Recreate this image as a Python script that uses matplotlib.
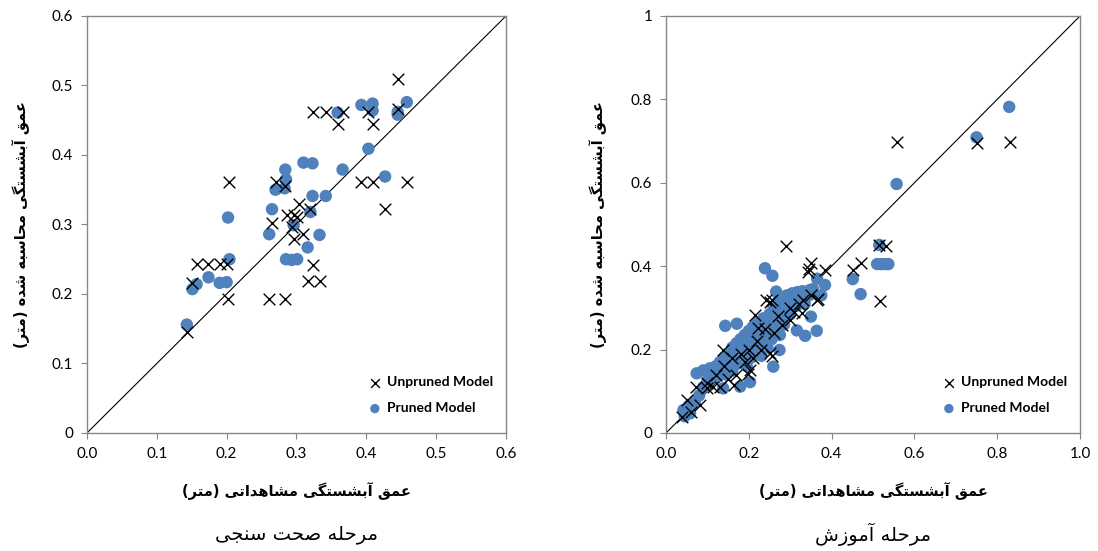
import numpy as np
import matplotlib
matplotlib.use('Agg')
import matplotlib.pyplot as plt

# ---- validation stage (left) ----
val_unpruned_x = [0.143, 0.150, 0.157, 0.174, 0.191, 0.200, 0.202, 0.204, 0.261, 0.284, 0.265, 0.271,
                  0.283, 0.286, 0.296, 0.301, 0.303, 0.294, 0.296, 0.310, 0.320, 0.323, 0.316, 0.333,
                  0.323, 0.342, 0.366, 0.359, 0.403, 0.409, 0.445, 0.445, 0.393, 0.409, 0.459, 0.427]
val_unpruned_y = [0.146, 0.216, 0.243, 0.243, 0.243, 0.243, 0.193, 0.361, 0.193, 0.193, 0.302, 0.361,
                  0.355, 0.313, 0.313, 0.311, 0.329, 0.297, 0.279, 0.287, 0.322, 0.241, 0.219, 0.219,
                  0.462, 0.462, 0.462, 0.445, 0.462, 0.445, 0.510, 0.466, 0.361, 0.361, 0.361, 0.322]
val_pruned_x = [0.143, 0.151, 0.157, 0.174, 0.190, 0.200, 0.204, 0.202, 0.261, 0.265, 0.270, 0.283,
                0.285, 0.284, 0.296, 0.285, 0.293, 0.301, 0.316, 0.320, 0.333, 0.323, 0.342, 0.310,
                0.323, 0.366, 0.359, 0.393, 0.409, 0.409, 0.403, 0.427, 0.445, 0.445, 0.458]
val_pruned_y = [0.156, 0.207, 0.214, 0.224, 0.216, 0.217, 0.250, 0.310, 0.286, 0.322, 0.350, 0.352,
                0.365, 0.379, 0.299, 0.250, 0.249, 0.250, 0.267, 0.318, 0.285, 0.341, 0.341, 0.389,
                0.388, 0.379, 0.461, 0.472, 0.474, 0.464, 0.409, 0.369, 0.462, 0.458, 0.476]

# ---- training stage (right) ----
tr_unpruned_x = [0.557, 0.750, 0.831, 0.515, 0.531, 0.470, 0.451, 0.517, 0.384, 0.290, 0.350, 0.345,
                 0.215, 0.242, 0.250, 0.255, 0.344, 0.364, 0.368, 0.300, 0.328, 0.223, 0.138, 0.251,
                 0.255, 0.203, 0.199, 0.072, 0.098, 0.114, 0.163, 0.050, 0.082, 0.038, 0.060,
                 0.10, 0.12, 0.13, 0.14, 0.15, 0.16, 0.17, 0.18, 0.19, 0.20, 0.21, 0.22, 0.23,
                 0.24, 0.26, 0.27, 0.28, 0.30, 0.31, 0.32, 0.33, 0.35]
tr_unpruned_y = [0.697, 0.695, 0.697, 0.451, 0.448, 0.407, 0.391, 0.317, 0.391, 0.448, 0.407, 0.393,
                 0.283, 0.319, 0.315, 0.319, 0.387, 0.319, 0.322, 0.271, 0.287, 0.251, 0.199, 0.191,
                 0.185, 0.151, 0.141, 0.110, 0.107, 0.110, 0.115, 0.079, 0.067, 0.039, 0.050,
                 0.12, 0.14, 0.11, 0.16, 0.13, 0.18, 0.14, 0.19, 0.17, 0.20, 0.18, 0.22, 0.20,
                 0.25, 0.24, 0.28, 0.26, 0.30, 0.29, 0.31, 0.32, 0.33]
tr_pruned_x = [0.829, 0.750, 0.557, 0.515, 0.510, 0.520, 0.530, 0.537, 0.451, 0.470, 0.384, 0.239,
               0.257, 0.266, 0.292, 0.305, 0.318, 0.330, 0.348, 0.270, 0.350, 0.143, 0.171, 0.316,
               0.336, 0.364, 0.274, 0.259, 0.203, 0.179, 0.138, 0.074, 0.090, 0.106, 0.042, 0.058,
               0.070, 0.045, 0.055,
               0.08, 0.09, 0.10, 0.11, 0.115, 0.12, 0.125, 0.13, 0.135, 0.14, 0.145, 0.15, 0.15,
               0.155, 0.16, 0.16, 0.165, 0.17, 0.17, 0.175, 0.18, 0.18, 0.185, 0.19, 0.19, 0.195,
               0.20, 0.20, 0.205, 0.21, 0.21, 0.215, 0.22, 0.22, 0.225, 0.23, 0.23, 0.235, 0.24,
               0.24, 0.245, 0.25, 0.25, 0.255, 0.26, 0.26, 0.265, 0.27, 0.275, 0.28, 0.285, 0.29,
               0.295, 0.30, 0.31, 0.315, 0.325, 0.335, 0.345, 0.355, 0.365, 0.375]
tr_pruned_y = [0.782, 0.709, 0.597, 0.451, 0.405, 0.405, 0.405, 0.405, 0.369, 0.333, 0.355, 0.395,
               0.377, 0.339, 0.330, 0.335, 0.338, 0.340, 0.343, 0.293, 0.279, 0.257, 0.262, 0.246,
               0.233, 0.245, 0.199, 0.159, 0.122, 0.111, 0.107, 0.143, 0.150, 0.155, 0.055, 0.047,
               0.075, 0.040, 0.065,
               0.09, 0.11, 0.125, 0.13, 0.145, 0.16, 0.135, 0.17, 0.15, 0.18, 0.14, 0.165, 0.19,
               0.175, 0.205, 0.15, 0.185, 0.165, 0.215, 0.195, 0.225, 0.175, 0.205, 0.235, 0.19, 0.16,
               0.215, 0.245, 0.18, 0.225, 0.255, 0.20, 0.235, 0.265, 0.21, 0.25, 0.185, 0.275, 0.23,
               0.26, 0.205, 0.285, 0.245, 0.225, 0.27, 0.30, 0.25, 0.315, 0.235, 0.28, 0.26, 0.32,
               0.30, 0.285, 0.325, 0.305, 0.32, 0.31, 0.33, 0.345, 0.37, 0.33]

val_ticks = [0, 0.1, 0.2, 0.3, 0.4, 0.5, 0.6]
val_xlabels = ['0.0', '0.1', '0.2', '0.3', '0.4', '0.5', '0.6']
val_ylabels = ['0', '0.1', '0.2', '0.3', '0.4', '0.5', '0.6']
tr_ticks = [0, 0.2, 0.4, 0.6, 0.8, 1.0]
tr_xlabels = ['0.0', '0.2', '0.4', '0.6', '0.8', '1.0']
tr_ylabels = ['0', '0.2', '0.4', '0.6', '0.8', '1']

ylab = 'عمق آبشستگی محاسبه شده (متر)'
xlab = 'عمق آبشستگی مشاهداتی (متر)'
title_val = 'مرحله صحت سنجی'
title_tr = 'مرحله آموزش'

# minimal persian shaping (matplotlib has no bidi / joining)
FORMS = {
    'ع': (0xFEC9, 0xFECA, 0xFECB, 0xFECC), 'م': (0xFEE1, 0xFEE2, 0xFEE3, 0xFEE4),
    'ق': (0xFED5, 0xFED6, 0xFED7, 0xFED8), 'ب': (0xFE8F, 0xFE90, 0xFE91, 0xFE92),
    'ش': (0xFEB5, 0xFEB6, 0xFEB7, 0xFEB8), 'س': (0xFEB1, 0xFEB2, 0xFEB3, 0xFEB4),
    'ت': (0xFE95, 0xFE96, 0xFE97, 0xFE98), 'گ': (0xFB92, 0xFB93, 0xFB94, 0xFB95),
    'ی': (0xFBFC, 0xFBFD, 0xFBFE, 0xFBFF), 'ح': (0xFEA1, 0xFEA2, 0xFEA3, 0xFEA4),
    'ه': (0xFEE9, 0xFEEA, 0xFEEB, 0xFEEC), 'ص': (0xFEB9, 0xFEBA, 0xFEBB, 0xFEBC),
    'ن': (0xFEE5, 0xFEE6, 0xFEE7, 0xFEE8), 'ج': (0xFE9D, 0xFE9E, 0xFE9F, 0xFEA0),
    'ل': (0xFEDD, 0xFEDE, 0xFEDF, 0xFEE0),
    'آ': (0xFE81, 0xFE82, None, None), 'ا': (0xFE8D, 0xFE8E, None, None),
    'د': (0xFEA9, 0xFEAA, None, None), 'ر': (0xFEAD, 0xFEAE, None, None),
    'و': (0xFEED, 0xFEEE, None, None), 'ز': (0xFEAF, 0xFEB0, None, None),
}


def fa(s):
    out = []
    for i, c in enumerate(s):
        if c not in FORMS:
            out.append(c)
            continue
        f = FORMS[c]
        prev = i > 0 and s[i - 1] in FORMS and FORMS[s[i - 1]][2] is not None
        nxt = i < len(s) - 1 and s[i + 1] in FORMS and f[2] is not None
        if prev and nxt:
            out.append(chr(f[3]))
        elif prev:
            out.append(chr(f[1]))
        elif nxt:
            out.append(chr(f[2]))
        else:
            out.append(chr(f[0]))
    vis = ''.join(out)[::-1]
    return vis.replace('(', '\0').replace(')', '(').replace('\0', ')')


blue = '#4F81BD'
gray = '#868686'
plt.rcParams['font.family'] = ['Lato', 'DejaVu Sans']

fig = plt.figure(figsize=(10.98, 5.51), dpi=100)
ax1 = fig.add_axes([0.0792, 0.2142, 0.3816, 0.7568])
ax2 = fig.add_axes([0.6066, 0.2142, 0.3770, 0.7568])


def panel(ax, ux, uy, px, py, lim, ticks, xl, yl, title, ylx):
    ax.plot([0, lim], [0, lim], color='black', lw=0.8, zorder=1)
    ax.scatter(px, py, s=80, color=blue, edgecolors='none', zorder=2, label='Pruned Model')
    ax.scatter(ux, uy, s=70, marker='x', color='black', linewidths=1.0, zorder=3,
               label='Unpruned Model')
    ax.set_xlim(0, lim)
    ax.set_ylim(0, lim)
    ax.set_xticks(ticks)
    ax.set_xticklabels(xl)
    ax.set_yticks(ticks)
    ax.set_yticklabels(yl)
    ax.tick_params(labelsize=11, colors='#000000', direction='out', length=4, color=gray, pad=6)
    for sp in ax.spines.values():
        sp.set_color(gray)
        sp.set_linewidth(1.0)
    h, l = ax.get_legend_handles_labels()
    ax.legend(h[::-1], l[::-1], loc='lower right', bbox_to_anchor=(1.0, 0.015), frameon=False,
              handletextpad=-0.1, labelspacing=1.0, markerscale=0.75,
              prop={'family': 'Lato', 'weight': 'bold', 'size': 10})
    ax.set_xlabel(fa(xlab), family='DejaVu Sans', fontweight='bold', fontsize=10.5, labelpad=15)
    ax.set_ylabel(fa(ylab), family='DejaVu Sans', fontweight='bold', fontsize=10.5)
    ax.yaxis.set_label_coords(ylx, 0.5)
    ax.text(0.5, -0.243, fa(title), transform=ax.transAxes, ha='center', va='center',
            family='DejaVu Sans', fontsize=14)


panel(ax1, val_unpruned_x, val_unpruned_y, val_pruned_x, val_pruned_y, 0.6, val_ticks,
      val_xlabels, val_ylabels, title_val, -0.137)
panel(ax2, tr_unpruned_x, tr_unpruned_y, tr_pruned_x, tr_pruned_y, 1.0, tr_ticks,
      tr_xlabels, tr_ylabels, title_tr, -0.143)

fig.savefig('out.png', dpi=100)
